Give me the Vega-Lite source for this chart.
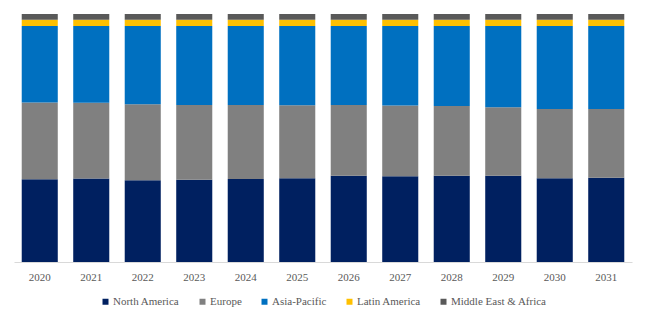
{
  "$schema": "https://vega.github.io/schema/vega-lite/v6.json",
  "width": 618,
  "height": 248,
  "padding": {"left": 14, "top": 14, "right": 15, "bottom": 60},
  "autosize": {"type": "none"},
  "background": "white",
  "data": {
    "values": [
      {"year": "2020", "region": "North America", "share": 33.3},
      {"year": "2020", "region": "Europe", "share": 31.0},
      {"year": "2020", "region": "Asia-Pacific", "share": 30.8},
      {"year": "2020", "region": "Latin America", "share": 2.5},
      {"year": "2020", "region": "Middle East & Africa", "share": 2.3},
      {"year": "2021", "region": "North America", "share": 33.6},
      {"year": "2021", "region": "Europe", "share": 30.5},
      {"year": "2021", "region": "Asia-Pacific", "share": 31.0},
      {"year": "2021", "region": "Latin America", "share": 2.5},
      {"year": "2021", "region": "Middle East & Africa", "share": 2.3},
      {"year": "2022", "region": "North America", "share": 32.9},
      {"year": "2022", "region": "Europe", "share": 30.6},
      {"year": "2022", "region": "Asia-Pacific", "share": 31.6},
      {"year": "2022", "region": "Latin America", "share": 2.5},
      {"year": "2022", "region": "Middle East & Africa", "share": 2.3},
      {"year": "2023", "region": "North America", "share": 33.2},
      {"year": "2023", "region": "Europe", "share": 30.1},
      {"year": "2023", "region": "Asia-Pacific", "share": 31.9},
      {"year": "2023", "region": "Latin America", "share": 2.5},
      {"year": "2023", "region": "Middle East & Africa", "share": 2.3},
      {"year": "2024", "region": "North America", "share": 33.5},
      {"year": "2024", "region": "Europe", "share": 29.8},
      {"year": "2024", "region": "Asia-Pacific", "share": 31.9},
      {"year": "2024", "region": "Latin America", "share": 2.5},
      {"year": "2024", "region": "Middle East & Africa", "share": 2.3},
      {"year": "2025", "region": "North America", "share": 33.7},
      {"year": "2025", "region": "Europe", "share": 29.4},
      {"year": "2025", "region": "Asia-Pacific", "share": 32.0},
      {"year": "2025", "region": "Latin America", "share": 2.5},
      {"year": "2025", "region": "Middle East & Africa", "share": 2.3},
      {"year": "2026", "region": "North America", "share": 34.8},
      {"year": "2026", "region": "Europe", "share": 28.5},
      {"year": "2026", "region": "Asia-Pacific", "share": 31.9},
      {"year": "2026", "region": "Latin America", "share": 2.5},
      {"year": "2026", "region": "Middle East & Africa", "share": 2.3},
      {"year": "2027", "region": "North America", "share": 34.6},
      {"year": "2027", "region": "Europe", "share": 28.5},
      {"year": "2027", "region": "Asia-Pacific", "share": 32.1},
      {"year": "2027", "region": "Latin America", "share": 2.5},
      {"year": "2027", "region": "Middle East & Africa", "share": 2.3},
      {"year": "2028", "region": "North America", "share": 34.8},
      {"year": "2028", "region": "Europe", "share": 28.1},
      {"year": "2028", "region": "Asia-Pacific", "share": 32.3},
      {"year": "2028", "region": "Latin America", "share": 2.5},
      {"year": "2028", "region": "Middle East & Africa", "share": 2.3},
      {"year": "2029", "region": "North America", "share": 34.8},
      {"year": "2029", "region": "Europe", "share": 27.6},
      {"year": "2029", "region": "Asia-Pacific", "share": 32.8},
      {"year": "2029", "region": "Latin America", "share": 2.5},
      {"year": "2029", "region": "Middle East & Africa", "share": 2.3},
      {"year": "2030", "region": "North America", "share": 33.7},
      {"year": "2030", "region": "Europe", "share": 27.9},
      {"year": "2030", "region": "Asia-Pacific", "share": 33.5},
      {"year": "2030", "region": "Latin America", "share": 2.5},
      {"year": "2030", "region": "Middle East & Africa", "share": 2.3},
      {"year": "2031", "region": "North America", "share": 34.0},
      {"year": "2031", "region": "Europe", "share": 27.7},
      {"year": "2031", "region": "Asia-Pacific", "share": 33.5},
      {"year": "2031", "region": "Latin America", "share": 2.5},
      {"year": "2031", "region": "Middle East & Africa", "share": 2.3}
    ]
  },
  "transform": [
    {"calculate": "indexof(['North America', 'Europe', 'Asia-Pacific', 'Latin America', 'Middle East & Africa'], datum.region)", "as": "stackRank"}
  ],
  "mark": {"type": "bar"},
  "encoding": {
    "x": {
      "field": "year",
      "type": "nominal",
      "scale": {"paddingInner": 0.3, "paddingOuter": 0.15},
      "axis": {
        "title": null,
        "labelAngle": 0,
        "ticks": false,
        "domainColor": "#d9d9d9",
        "labelColor": "#595959",
        "labelFontSize": 11,
        "labelPadding": 9
      }
    },
    "y": {
      "field": "share",
      "type": "quantitative",
      "stack": "normalize",
      "axis": null
    },
    "order": {"field": "stackRank", "type": "quantitative", "sort": "ascending"},
    "color": {
      "field": "region",
      "type": "nominal",
      "sort": ["North America", "Europe", "Asia-Pacific", "Latin America", "Middle East & Africa"],
      "scale": {
        "domain": ["North America", "Europe", "Asia-Pacific", "Latin America", "Middle East & Africa"],
        "range": ["#002060", "#808080", "#0070c0", "#ffc000", "#595959"]
      },
      "legend": {
        "title": null,
        "orient": "none",
        "legendX": 86,
        "legendY": 282,
        "direction": "horizontal",
        "symbolType": "square",
        "symbolSize": 36,
        "symbolStrokeWidth": 0,
        "labelFontSize": 11,
        "labelColor": "#595959",
        "labelOffset": 2,
        "columnPadding": 17
      }
    }
  },
  "config": {
    "view": {"stroke": null},
    "font": "Liberation Serif",
    "axis": {"labelFont": "Liberation Serif"},
    "legend": {"labelFont": "Liberation Serif"}
  }
}
